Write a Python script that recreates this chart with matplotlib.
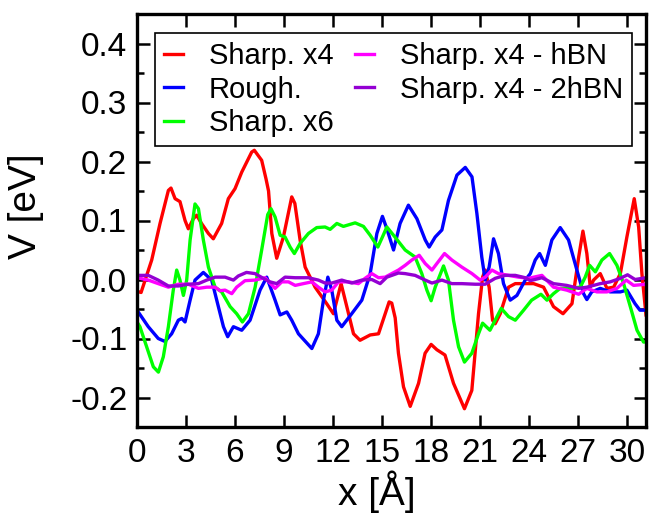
import matplotlib
matplotlib.use("Agg")
from matplotlib import pyplot as plt
from matplotlib.ticker import MultipleLocator

plt.rcParams['font.family'] = ['Liberation Sans', 'DejaVu Sans']

# Sharp. x4
red_x = [0, 0.25, 0.9, 1.41, 1.92, 2.08, 2.33, 2.63, 2.94, 3.14, 3.45, 3.65, 3.95, 4.37, 4.67, 5.18, 5.59, 6.0, 6.41, 7.02,
         7.18, 7.63, 7.9, 8.05, 8.25, 8.55, 8.96, 9.47, 9.66, 9.98, 10.29, 10.9, 11.61, 12.02, 12.49, 12.84, 13.25, 13.65,
         14.27, 14.78, 15.19, 15.43, 15.59, 15.8, 16.0, 16.31, 16.72, 17.23, 17.63, 18.0, 18.35, 18.85, 19.37, 20.04,
         20.49, 20.9, 21.15, 21.31, 21.55, 21.76, 21.92, 22.23, 22.74, 23.15, 23.94, 24.27, 24.88, 25.49, 26.07, 26.62,
         27.03, 27.29, 27.53, 27.74, 27.94, 28.35, 28.76, 29.17, 29.58, 29.98, 30.43, 30.7, 30.9, 31.15]
red_y = [-0.02, -0.022, 0.033, 0.095, 0.151, 0.155, 0.137, 0.132, 0.10, 0.086, 0.103, 0.109, 0.095, 0.078, 0.069, 0.095,
         0.137, 0.154, 0.182, 0.216, 0.219, 0.202, 0.17, 0.15, 0.078, 0.036, 0.072, 0.14, 0.129, 0.067, 0.021, -0.013,
         -0.041, -0.058, -0.007, -0.046, -0.092, -0.103, -0.094, -0.092, -0.058, -0.038, -0.04, -0.065, -0.125, -0.182,
         -0.215, -0.176, -0.125, -0.11, -0.119, -0.128, -0.176, -0.219, -0.188, -0.058, 0.004, 0.016, -0.013, -0.069,
         -0.075, -0.058, -0.013, -0.007, -0.007, -0.007, -0.013, -0.046, -0.058, -0.041, 0.038, 0.082, 0.044, -0.013,
         -0.001, 0.01, -0.015, -0.013, 0.01, 0.072, 0.137, 0.089, 0.01, -0.06]

# Rough.
blue_x = [0, 0.69, 1.3, 1.71, 2.12, 2.53, 2.74, 2.94, 3.25, 3.55, 4.06, 4.57, 4.98, 5.29, 5.55, 5.9, 6.41, 6.92, 7.53,
          7.94, 8.45, 8.76, 9.17, 9.47, 9.88, 10.7, 11.1, 11.41, 11.68, 11.92, 12.23, 12.53, 13.14, 13.76, 14.27, 14.68,
          15.02, 15.29, 15.7, 16.1, 16.61, 17.13, 17.64, 17.88, 18.25, 18.66, 19.06, 19.58, 20.09, 20.5, 20.8, 21.1,
          21.31, 21.55, 21.82, 22.12, 22.43, 22.84, 23.25, 23.76, 24.07, 24.37, 24.64, 24.99, 25.39, 25.9, 26.41, 26.92,
          27.33, 27.53, 27.83, 28.35, 28.96, 29.58, 29.98, 30.48, 30.78, 31.15]
blue_y = [-0.052, -0.08, -0.1, -0.105, -0.092, -0.069, -0.066, -0.072, -0.035, -0.001, 0.012, -0.001, -0.046, -0.08,
          -0.097, -0.08, -0.086, -0.069, -0.018, 0.004, -0.035, -0.06, -0.055, -0.069, -0.092, -0.117, -0.092, -0.035,
          0.004, -0.018, -0.069, -0.08, -0.058, -0.035, 0.01, 0.078, 0.107, 0.086, 0.05, 0.095, 0.126, 0.103, 0.067,
          0.055, 0.072, 0.084, 0.134, 0.177, 0.19, 0.174, 0.112, 0.038, -0.001, 0.021, 0.069, 0.044, -0.007, -0.035,
          -0.027, -0.001, 0.01, 0.033, 0.044, 0.024, 0.067, 0.088, 0.067, 0.016, -0.024, -0.034, -0.021, -0.015, -0.021,
          -0.021, -0.018, -0.041, -0.052, -0.052]

# Sharp. x6
green_x = [0, 0.18, 0.59, 1.0, 1.31, 1.61, 1.92, 2.22, 2.43, 2.63, 2.84, 3.04, 3.25, 3.55, 3.76, 4.06, 4.37, 4.78, 5.18,
           5.7, 6.1, 6.45, 6.82, 7.23, 7.63, 8.0, 8.2, 8.45, 8.76, 9.06, 9.37, 9.63, 9.98, 10.49, 11.0, 11.51, 11.82,
           12.23, 12.63, 13.35, 13.86, 14.27, 14.74, 15.02, 15.29, 15.7, 16.41, 17.02, 17.43, 17.74, 18.0, 18.25, 18.76,
           19.06, 19.37, 19.68, 20.04, 20.49, 20.9, 21.15, 21.6, 21.92, 22.29, 22.74, 23.15, 23.66, 24.15, 24.72, 25.09,
           25.49, 25.9, 26.52, 27.13, 27.43, 27.7, 28.05, 28.45, 28.92, 29.37, 29.78, 30.19, 30.6, 31.0, 31.15]
green_y = [-0.072, -0.08, -0.114, -0.148, -0.157, -0.131, -0.08, -0.018, 0.016, -0.001, -0.027, -0.001, 0.067, 0.128,
           0.12, 0.067, 0.021, -0.013, -0.021, -0.046, -0.058, -0.072, -0.058, -0.013, 0.05, 0.11, 0.12, 0.106, 0.075,
           0.072, 0.055, 0.044, 0.061, 0.078, 0.088, 0.089, 0.085, 0.095, 0.09, 0.096, 0.09, 0.075, 0.055, 0.072, 0.089,
           0.075, 0.05, 0.038, 0.01, -0.018, -0.036, -0.013, 0.023, -0.001, -0.069, -0.114, -0.14, -0.125, -0.092,
           -0.074, -0.086, -0.069, -0.049, -0.063, -0.069, -0.052, -0.035, -0.025, -0.035, -0.024, -0.015, -0.015,
           -0.013, 0.004, 0.024, 0.013, 0.033, 0.044, 0.024, -0.007, -0.046, -0.086, -0.106, -0.106]

# Sharp. x4 - hBN
mag_x = [0, 0.69, 1.3, 1.92, 2.53, 3.14, 3.76, 4.27, 4.78, 5.08, 5.39, 5.8, 6.1, 6.61, 7.22, 7.84, 8.45, 8.86, 9.27,
         9.68, 10.18, 10.7, 11.1, 11.51, 11.92, 12.33, 12.94, 13.55, 13.96, 14.37, 14.78, 15.19, 15.59, 16.0, 16.41,
         16.82, 17.27, 17.64, 18.05, 18.35, 18.82, 19.27, 19.88, 20.5, 21.0, 21.31, 21.72, 22.12, 22.74, 23.35, 23.96,
         24.78, 25.49, 26.3, 27.03, 27.53, 28.14, 28.76, 29.37, 29.94, 30.39, 31.15]
mag_y = [0.003, -0.001, -0.007, -0.013, -0.008, -0.008, -0.015, -0.013, -0.013, -0.019, -0.018, -0.024, -0.013, -0.002,
         -0.001, 0.003, -0.015, -0.004, -0.004, -0.01, -0.007, -0.004, -0.013, -0.021, -0.018, -0.004, -0.004, -0.007,
         0.002, 0.01, 0.003, 0.004, 0.01, 0.016, 0.024, 0.033, 0.041, 0.027, 0.016, 0.027, 0.044, 0.033, 0.021, 0.01,
         -0.001, 0.004, 0.016, 0.01, 0.007, 0.004, 0.002, 0.007, -0.013, -0.018, -0.025, -0.015, -0.021, -0.021, -0.015,
         -0.001, -0.01, -0.008]

# Sharp. x4 - 2hBN
pur_x = [0, 0.69, 1.3, 1.92, 2.53, 3.14, 3.76, 4.27, 4.78, 5.39, 5.9, 6.2, 6.7, 7.22, 7.73, 8.14, 8.55, 9.06, 9.68,
         10.49, 11.1, 11.51, 11.92, 12.53, 13.14, 13.76, 14.37, 14.88, 15.29, 16.0, 16.41, 17.02, 17.64, 18.05, 18.66,
         19.27, 19.88, 20.7, 21.31, 21.92, 22.53, 23.15, 23.76, 24.07, 24.78, 25.49, 26.3, 27.03, 27.53, 28.35, 28.96,
         29.58, 30.02, 30.48, 31.15]
pur_y = [0.007, 0.007, -0.001, -0.011, -0.011, -0.008, -0.007, -0.001, 0.004, 0.004, -0.001, 0.006, 0.012, 0.01, 0.002,
         -0.004, -0.007, 0.004, 0.003, 0.003, -0.001, -0.006, -0.006, -0.001, -0.006, -0.001, 0.0, -0.007, 0.004,
         0.011, 0.01, 0.007, -0.001, -0.006, -0.001, -0.007, -0.007, -0.008, -0.008, 0.002, 0.007, 0.007, 0.003,
         -0.002, 0.003, -0.007, -0.01, -0.015, -0.013, -0.007, -0.004, 0.002, 0.008, 0.0, 0.003]

labels = ["Sharp. x4", "Rough.", "Sharp. x6", "Sharp. x4 - hBN", "Sharp. x4 - 2hBN"]
colors = ["#ff0000", "#0000ff", "#00ff00", "#ff00ff", "#9400d3"]

fig = plt.figure(figsize=(6.49, 5.16), dpi=100)
ax = fig.add_axes([137/649, 1-427/516, (646-137)/649, (427-14)/516])

series = [(red_x, red_y), (blue_x, blue_y), (green_x, green_y), (mag_x, mag_y), (pur_x, pur_y)]
for (xs, ys), lab, c in zip(series, labels, colors):
    ax.plot(xs, ys, color=c, lw=2.4, label=lab, solid_joinstyle='round')

ax.set_xlim(0, 31.15)
ax.set_ylim(-0.25, 0.45)
ax.xaxis.set_major_locator(MultipleLocator(3))
ax.yaxis.set_minor_locator(MultipleLocator(0.05))
ax.set_yticks([-0.2, -0.1, 0.0, 0.1, 0.2, 0.3, 0.4])
ax.set_yticklabels(["-0.2", "-0.1", "0.0", "0.1", "0.2", "0.3", "0.4"])

for s in ax.spines.values():
    s.set_linewidth(2.4)
ax.tick_params(which='both', direction='in', top=True, right=True, width=1.8, labelsize=24)
ax.tick_params(which='major', length=9)
ax.tick_params(which='minor', length=5)
ax.tick_params(axis='y', pad=7)
ax.tick_params(axis='x', pad=8)

ax.set_xlabel("x [Å]", fontsize=28)
ax.set_ylabel("V [eV]", fontsize=28)
# label anchors: top of the x label, right edge of the y label
ax.xaxis.set_label_coords((377-137)/509, (427-470)/413)
ax.yaxis.set_label_coords((44-137)/509, (427-206)/413)

leg = ax.legend(ncol=2, loc='upper left', bbox_to_anchor=(0.035, 0.954), borderaxespad=0,
                fontsize=21, handlelength=0.66, handletextpad=0.9, columnspacing=0.72,
                labelspacing=0.2, borderpad=0.3, fancybox=False, framealpha=1)
leg.get_frame().set_edgecolor('black')
leg.get_frame().set_linewidth(1.2)
for line in leg.get_lines():
    line.set_linewidth(2.4)

plt.savefig('out.png', dpi=100)
